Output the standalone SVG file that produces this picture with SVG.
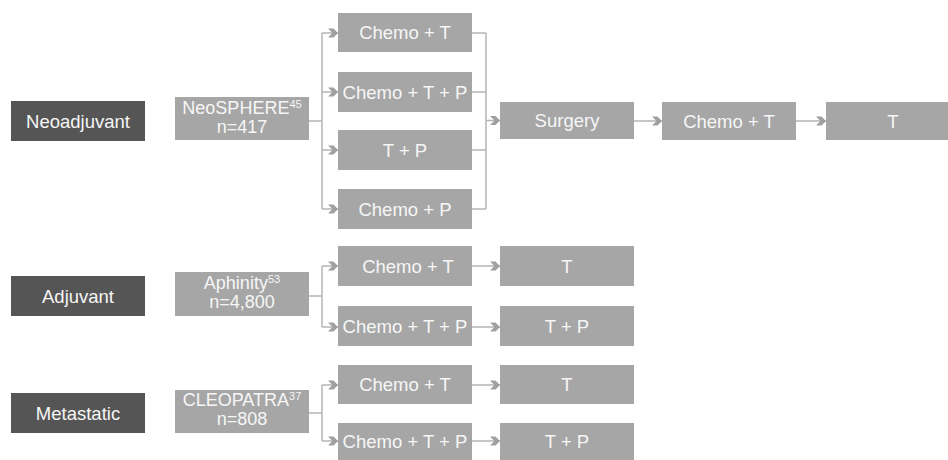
<svg xmlns="http://www.w3.org/2000/svg" width="948" height="460" viewBox="0 0 948 460">
<style>
  .dark { fill: #555555; }
  .box { fill: #a6a6a6; }
  .t { font-family: "Liberation Sans", Arial, sans-serif; font-size: 18.5px; fill: #f6f6f6; text-anchor: middle; }
  .t2 { font-size: 18px; }
  .sup { font-size: 11px; }
  .c { fill: none; stroke: #b5b5b5; stroke-width: 1.5; }
  .a { marker-end: url(#chev); }
</style>
<defs>
  <marker id="chev" viewBox="0 0 10 10" markerWidth="10" markerHeight="10" refX="10" refY="5" markerUnits="userSpaceOnUse" orient="auto">
    <path d="M0,0.5 L5.5,0.5 L10,5 L5.5,9.5 L0,9.5 L4.5,5 Z" fill="#a0a0a0"/>
  </marker>
</defs>
<rect width="948" height="460" fill="#ffffff"/>

<g id="connectors">
  <!-- Neoadjuvant branch -->
  <path class="c" d="M309,121 H322 M322,33 V209"/>
  <path class="c a" d="M322,33 H338"/>
  <path class="c a" d="M322,92 H338"/>
  <path class="c a" d="M322,150 H338"/>
  <path class="c a" d="M322,209 H338"/>
  <path class="c" d="M472,33 H486 M472,92 H486 M472,150 H486 M472,209 H486 M486,33 V209"/>
  <path class="c a" d="M486,120.5 H500"/>
  <path class="c a" d="M634,121 H662"/>
  <path class="c a" d="M796,121 H826"/>
  <!-- Adjuvant branch -->
  <path class="c" d="M309,296 H322 M322,266 V327"/>
  <path class="c a" d="M322,266 H338"/>
  <path class="c a" d="M322,327 H338"/>
  <path class="c a" d="M472,266 H500"/>
  <path class="c a" d="M472,327 H500"/>
  <!-- Metastatic branch -->
  <path class="c" d="M309,413 H322 M322,385 V441"/>
  <path class="c a" d="M322,385 H338"/>
  <path class="c a" d="M322,441 H338"/>
  <path class="c a" d="M472,385 H500"/>
  <path class="c a" d="M472,441 H500"/>
</g>

<g id="neoadjuvant"><rect class="dark" x="11" y="101" width="134" height="40"/><text class="t" x="78" y="127.5">Neoadjuvant</text></g>
<g id="neosphere"><rect class="box" x="175" y="97" width="134" height="43"/>
  <text class="t t2" x="242" y="113.5">NeoSPHERE<tspan class="sup" dy="-6">45</tspan></text>
  <text class="t t2" x="242" y="132.5">n=417</text></g>
<g id="neo-chemo-t"><rect class="box" x="338" y="13" width="134" height="39"/><text class="t" x="405" y="39">Chemo + T</text></g>
<g id="neo-chemo-t-p"><rect class="box" x="338" y="72" width="134" height="40"/><text class="t" x="405" y="98.5">Chemo + T + P</text></g>
<g id="neo-t-p"><rect class="box" x="338" y="130" width="134" height="40"/><text class="t" x="405" y="156.5">T + P</text></g>
<g id="neo-chemo-p"><rect class="box" x="338" y="189" width="134" height="40"/><text class="t" x="405" y="215.5">Chemo + P</text></g>
<g id="surgery"><rect class="box" x="500" y="102" width="134" height="37"/><text class="t" x="567" y="127">Surgery</text></g>
<g id="neo-post-chemo-t"><rect class="box" x="662" y="102" width="134" height="38"/><text class="t" x="729" y="127.5">Chemo + T</text></g>
<g id="neo-post-t"><rect class="box" x="826" y="102" width="134" height="38"/><text class="t" x="893" y="127.5">T</text></g>

<g id="adjuvant"><rect class="dark" x="11" y="276" width="134" height="40"/><text class="t" x="78" y="302.5">Adjuvant</text></g>
<g id="aphinity"><rect class="box" x="175" y="272" width="134" height="44"/>
  <text class="t t2" x="242" y="288.5">Aphinity<tspan class="sup" dy="-6">53</tspan></text>
  <text class="t t2" x="242" y="307.5">n=4,800</text></g>
<g id="adj-chemo-t"><rect class="box" x="338" y="246" width="134" height="40"/><text class="t" x="408" y="272.5">Chemo + T</text></g>
<g id="adj-chemo-t-p"><rect class="box" x="338" y="306" width="134" height="40"/><text class="t" x="405" y="332.5">Chemo + T + P</text></g>
<g id="adj-t"><rect class="box" x="500" y="246" width="134" height="40"/><text class="t" x="567" y="272.5">T</text></g>
<g id="adj-t-p"><rect class="box" x="500" y="306" width="134" height="40"/><text class="t" x="567" y="332.5">T + P</text></g>

<g id="metastatic"><rect class="dark" x="11" y="393" width="134" height="40"/><text class="t" x="78" y="419.5">Metastatic</text></g>
<g id="cleopatra"><rect class="box" x="175" y="390" width="134" height="43"/>
  <text class="t t2" x="242" y="406">CLEOPATRA<tspan class="sup" dy="-6">37</tspan></text>
  <text class="t t2" x="242" y="425">n=808</text></g>
<g id="met-chemo-t"><rect class="box" x="338" y="365" width="134" height="39"/><text class="t" x="405" y="391">Chemo + T</text></g>
<g id="met-chemo-t-p"><rect class="box" x="338" y="423" width="134" height="39"/><text class="t" x="405" y="448">Chemo + T + P</text></g>
<g id="met-t"><rect class="box" x="500" y="365" width="134" height="39"/><text class="t" x="567" y="391">T</text></g>
<g id="met-t-p"><rect class="box" x="500" y="423" width="134" height="39"/><text class="t" x="567" y="448">T + P</text></g>
</svg>
